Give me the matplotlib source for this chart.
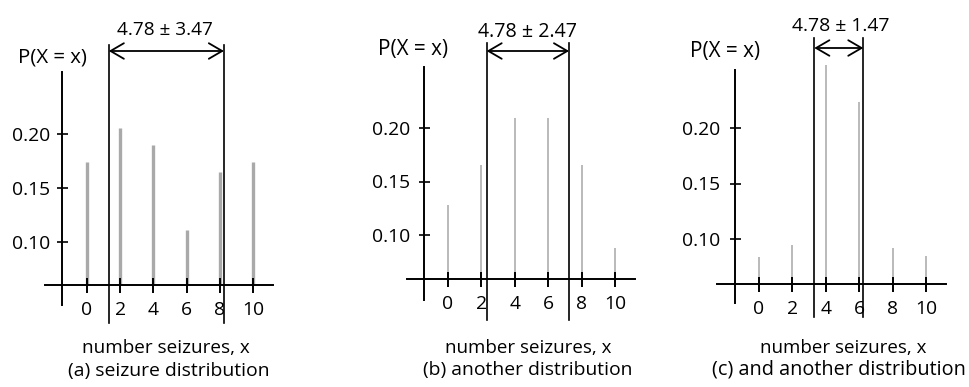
import matplotlib
matplotlib.use("Agg")
import matplotlib.pyplot as plt

plt.rcParams['font.family'] = ['Open Sans', 'DejaVu Sans']

# ---------------- data ----------------
x_vals = [0, 2, 4, 6, 8, 10]
x_ticklabels = ['0', '2', '4', '6', '8', '10']
y_ticks = [0.10, 0.15, 0.20]
y_ticklabels = ['0.10', '0.15', '0.20']
p_a = [0.174, 0.206, 0.190, 0.111, 0.165, 0.174]
p_b = [0.128, 0.165, 0.209, 0.209, 0.165, 0.088]
p_c = [0.084, 0.095, 0.257, 0.223, 0.092, 0.085]
mean_val = 4.78
sd_vals = [3.47, 2.47, 1.47]
captions = ['(a) seizure distribution', '(b) another distribution',
            '(c) and another distribution']
xlabel = 'number seizures, x'
ylabel = 'P(X = x)'

# ---------------- layout (pixels of the 970x387 canvas) ----------------
W, H = 970, 387
panels = [
    dict(x0=87, x10=253, y10=242, y20=134, base=285, yax=62, xext=(45, 273),
         yext=(72, 305), mext=(45, 323), arr=51,
         title=(165, 35, 96), plab=(52, 62, 69), xlab=(166, 353, 168),
         cap=(169, 376, 202), ypad=12,
         bar_lw=2.4, bar_col='#a9a9a9'),
    dict(x0=448, x10=615, y10=235, y20=128, base=279, yax=424, xext=(407, 635),
         yext=(67, 300), mext=(43, 320), arr=51,
         title=(527, 37, 99), plab=(413, 55, 70), xlab=(528, 353, 167),
         cap=(528, 375, 210), ypad=14,
         bar_lw=1.3, bar_col='#b4b4b4'),
    dict(x0=759, x10=926, y10=239, y20=128, base=284, yax=735, xext=(717, 946),
         yext=(70, 303), mext=(38, 317), arr=48,
         title=(841, 31, 98), plab=(725, 57, 70), xlab=(843, 353, 167),
         cap=(839, 375, 255), ypad=15,
         bar_lw=1.3, bar_col='#b4b4b4'),
]
series = [p_a, p_b, p_c]

fig = plt.figure(figsize=(W / 100, H / 100), dpi=100)
renderer = fig.canvas.get_renderer()
PT = 72.0 / 100  # points per pixel


def fit_width(t, target_px):
    w = t.get_window_extent(renderer).width
    t.set_fontsize(t.get_fontsize() * target_px / w)


# tick label size fitted so that "0.20" is ~38 px wide
probe = fig.text(0, 0, '0.20', fontsize=13)
fit_width(probe, 38)
tick_fs = probe.get_fontsize()
probe.remove()

for L, p, sd, cap in zip(panels, series, sd_vals, captions):
    left, right = L['x0'] - 60, L['x0'] + 225
    sx = (L['x10'] - L['x0']) / 10.0
    sy = (L['y10'] - L['y20']) / 0.10

    def X(px, L=L, sx=sx):
        return (px - L['x0']) / sx

    def V(py, L=L, sy=sy):
        return 0.10 + (L['y10'] - py) / sy

    ax = fig.add_axes([left / W, 0, (right - left) / W, 1])
    ax.set_xlim(X(left), X(right))
    ax.set_ylim(V(H), V(0))
    ax.patch.set_alpha(0)
    ax.set_axisbelow(False)

    base = V(L['base'])
    ax.vlines(x_vals, base, p, colors=L['bar_col'], lw=L['bar_lw'], zorder=2)

    for s in ('top', 'right'):
        ax.spines[s].set_visible(False)
    ax.spines['left'].set_position(('data', X(L['yax'])))
    ax.spines['left'].set_bounds(V(L['yext'][1]), V(L['yext'][0]))
    ax.spines['bottom'].set_position(('data', base))
    ax.spines['bottom'].set_bounds(X(L['xext'][0]), X(L['xext'][1]))
    for s in ('left', 'bottom'):
        ax.spines[s].set_linewidth(1.4)
        ax.spines[s].set_zorder(3)

    ax.set_xticks(x_vals)
    ax.set_xticklabels(x_ticklabels)
    ax.set_yticks(y_ticks)
    ax.set_yticklabels(y_ticklabels)
    xlen = 15 * PT
    ylen = 11 * PT
    ax.tick_params(axis='x', direction='inout', length=xlen, width=1.4,
                   pad=16 * PT - xlen / 2, labelsize=tick_fs)
    ax.tick_params(axis='y', direction='inout', length=ylen, width=1.2,
                   pad=L['ypad'] * PT - ylen / 2, labelsize=tick_fs)

    # mean +/- sd lines
    lo, hi = mean_val - sd, mean_val + sd
    ymin_f = (V(L['mext'][1]) - V(H)) / (V(0) - V(H))
    ymax_f = (V(L['mext'][0]) - V(H)) / (V(0) - V(H))
    for xv in (lo, hi):
        ax.axvline(xv, ymin=ymin_f, ymax=ymax_f, color='black', lw=1.2,
                   clip_on=False, zorder=4)
    ax.annotate('', xy=(lo, V(L['arr'])), xytext=(hi, V(L['arr'])),
                arrowprops=dict(arrowstyle='<->,head_length=0.6,head_width=0.35',
                                lw=1.3, color='black',
                                shrinkA=0, shrinkB=0, mutation_scale=16),
                annotation_clip=False)

    texts = [
        (f'{mean_val:.2f} ± {sd:.2f}', L['title']),
        (ylabel, L['plab']),
        (xlabel, L['xlab']),
        (cap, L['cap']),
    ]
    for s, (cx, by, wpx) in texts:
        t = ax.text(X(cx), V(by), s, ha='center', va='baseline', fontsize=14,
                    clip_on=False)
        fit_width(t, wpx)

fig.savefig('out.png', dpi=100)
